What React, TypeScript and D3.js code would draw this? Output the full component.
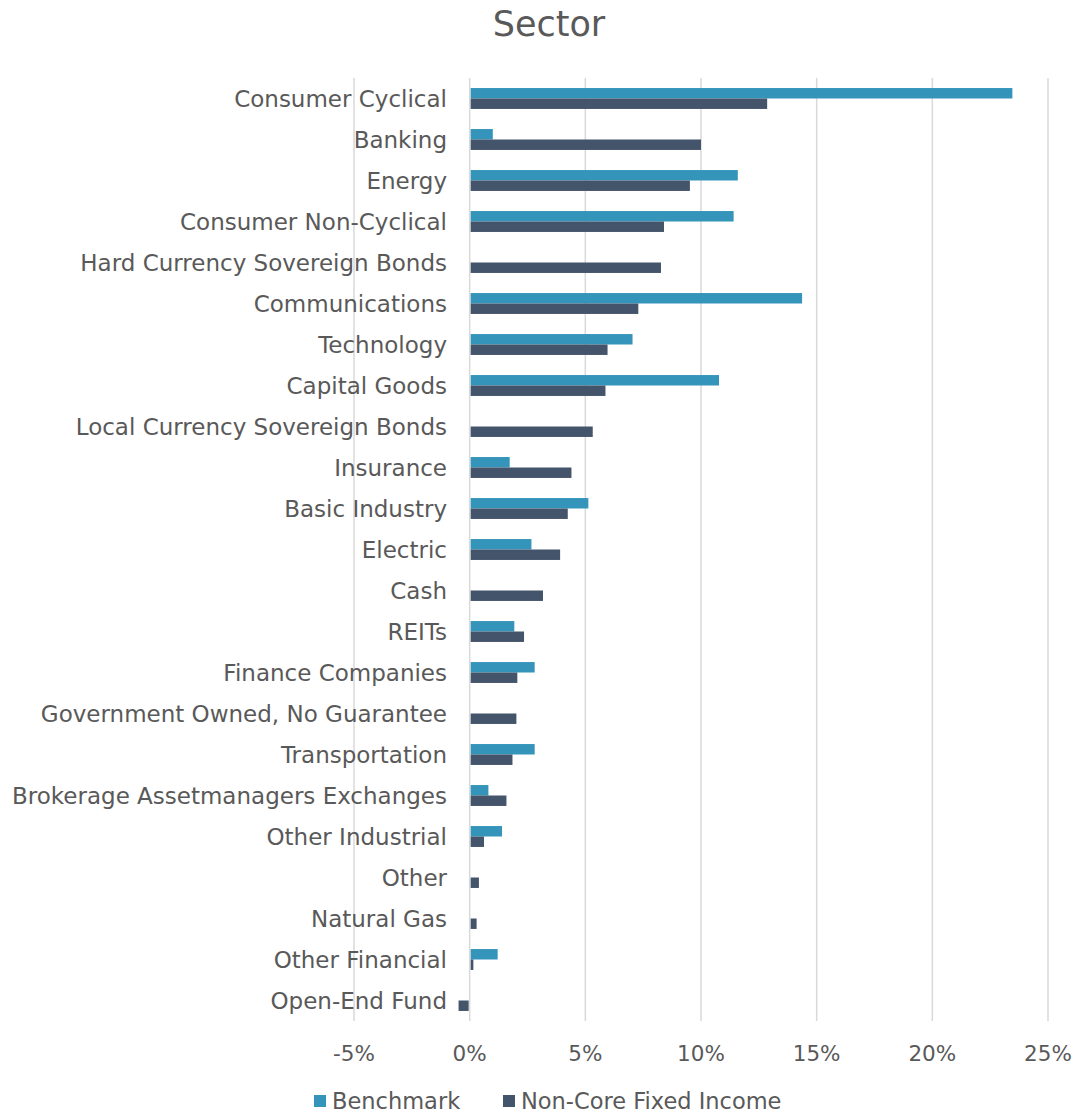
import React from 'react';
import * as d3 from 'd3';

const categories = [
  'Consumer Cyclical',
  'Banking',
  'Energy',
  'Consumer Non-Cyclical',
  'Hard Currency Sovereign Bonds',
  'Communications',
  'Technology',
  'Capital Goods',
  'Local Currency Sovereign Bonds',
  'Insurance',
  'Basic Industry',
  'Electric',
  'Cash',
  'REITs',
  'Finance Companies',
  'Government Owned, No Guarantee',
  'Transportation',
  'Brokerage Assetmanagers Exchanges',
  'Other Industrial',
  'Other',
  'Natural Gas',
  'Other Financial',
  'Open-End Fund',
];

// values in %
const benchmark = [23.46, 1.0, 11.59, 11.41, 0, 14.37, 7.04, 10.78, 0, 1.73, 5.13, 2.67, 0, 1.93, 2.81, 0, 2.81, 0.81, 1.4, 0, 0, 1.21, 0];
const nonCore = [12.86, 10.0, 9.52, 8.4, 8.27, 7.29, 5.96, 5.87, 5.32, 4.4, 4.24, 3.91, 3.17, 2.35, 2.06, 2.02, 1.85, 1.59, 0.62, 0.4, 0.3, 0.16, -0.48];

const xTicks = [-5, 0, 5, 10, 15, 20, 25];

const seriesNames = ['Benchmark', 'Non-Core Fixed Income'];
const colors = ['#3494BA', '#44546A'];

const W = 1074;
const H = 1116;
const FONT = '"DejaVu Sans", sans-serif';
const TEXT = '#595959';

const App: React.FC = () => {
  const x = d3.scaleLinear().domain([-5, 25]).range([354, 1048]);
  const y = d3.scaleBand<string>().domain(categories).range([78, 1021]).paddingInner(0.49).paddingOuter(0.245);
  const inner = d3.scaleBand<string>().domain(seriesNames).range([0, y.bandwidth()]);
  const plotTop = 78;
  const plotBottom = 1021;

  const series = [benchmark, nonCore];

  return (
    <svg width={W} height={H} style={{ position: 'absolute', left: 0, top: 0, background: '#fff' }} fontFamily={FONT}>
      <text x={549} y={24} textAnchor="middle" dominantBaseline="central" fontSize={35} fill={TEXT}>Sector</text>

      {/* gridlines */}
      {xTicks.map(t => (
        <line key={t} x1={x(t)} x2={x(t)} y1={plotTop} y2={plotBottom} stroke="#D9D9D9" strokeWidth={1.5} />
      ))}

      {/* bars */}
      {series.map((vals, si) =>
        vals.map((v, i) => {
          if (v === 0) return null;
          const x0 = x(Math.min(0, v));
          const x1 = x(Math.max(0, v));
          return (
            <rect
              key={`${si}-${i}`}
              x={x0 + (v > 0 ? 1 : 0)}
              y={(y(categories[i]) as number) + (inner(seriesNames[si]) as number)}
              width={Math.max(0, x1 - x0 - 1)}
              height={inner.bandwidth()}
              fill={colors[si]}
            />
          );
        })
      )}

      {/* category labels */}
      {categories.map(c => (
        <text key={c} x={447} y={(y(c) as number) + y.bandwidth() / 2} textAnchor="end" dominantBaseline="central" fontSize={23} fill={TEXT}>
          {c}
        </text>
      ))}

      {/* x tick labels */}
      {xTicks.map(t => (
        <text key={t} x={x(t)} y={1053} textAnchor="middle" dominantBaseline="central" fontSize={21.5} fill={TEXT}>
          {`${t}%`}
        </text>
      ))}

      {/* legend */}
      {seriesNames.map((s, i) => {
        const lx = [314, 503][i];
        return (
          <g key={s}>
            <rect x={lx} y={1095} width={12} height={12} fill={colors[i]} />
            <text x={lx + 18} y={1101} dominantBaseline="central" fontSize={22.5} fill={TEXT}>{s}</text>
          </g>
        );
      })}
    </svg>
  );
};

export default App;
